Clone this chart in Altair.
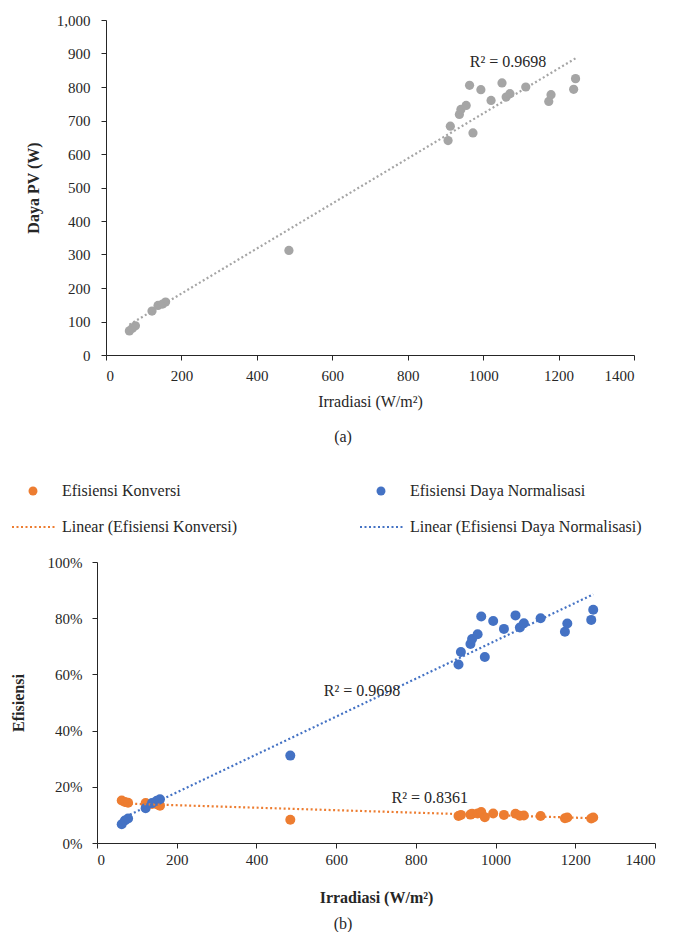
import altair as alt
import pandas as pd

FONT = "Liberation Serif"
INK = "#262626"

# ---- data ----
irradiasi = [62, 70, 78, 122, 138, 150, 158, 485, 907, 913, 937, 941, 955, 964, 973,
             994, 1021, 1050, 1061, 1071, 1113, 1174, 1180, 1240, 1245]
daya_pv = [72, 80, 87, 131, 148, 152, 158, 312, 640, 683, 718, 733, 745, 805, 663,
           792, 760, 812, 770, 780, 800, 757, 777, 793, 825]
ef_normalisasi = [6.7, 8.0, 8.7, 12.4, 14.2, 15.0, 15.6, 31.1, 63.5, 68.0, 70.8, 72.6, 74.3, 80.6, 66.2,
                  79.0, 76.2, 81.0, 76.7, 78.2, 80.0, 75.2, 78.1, 79.4, 83.0]
ef_konversi = [15.1, 14.6, 14.3, 14.2, 13.9, 13.8, 13.3, 8.3, 9.6, 10.0, 10.1, 10.4, 10.5, 11.0, 9.2,
               10.5, 10.0, 10.4, 9.7, 9.8, 9.6, 8.8, 9.1, 8.7, 9.1]

series_names = ["Efisiensi Konversi", "Efisiensi Daya Normalisasi"]
series_colors = ["#ED7D31", "#4472C4"]

r2_a_text = ["R² = 0.9698"]
r2_a_x = [1066]
r2_a_y = [876]

r2_b_text = ["R² = 0.9698", "R² = 0.8361"]
r2_b_x = [665, 835]
r2_b_y = [0.541, 0.160]

legend_labels = ["Efisiensi Konversi", "Efisiensi Daya Normalisasi",
                 "Linear (Efisiensi Konversi)", "Linear (Efisiensi Daya Normalisasi)"]
legend_col = [0, 1, 0, 1]
legend_row = [0, 0, 1, 1]
legend_kind = ["point", "point", "line", "line"]
legend_colors = ["#ED7D31", "#4472C4", "#ED7D31", "#4472C4"]

x_ticks = [0, 200, 400, 600, 800, 1000, 1200, 1400]
ya_ticks = [0, 100, 200, 300, 400, 500, 600, 700, 800, 900, 1000]
yb_ticks = [0, 0.2, 0.4, 0.6, 0.8, 1.0]

# ---- tables ----
df_a = pd.DataFrame({"irr": irradiasi, "daya": daya_pv})
df_b = pd.DataFrame({
    "irr": irradiasi + irradiasi,
    "value": [v / 100 for v in ef_konversi] + [v / 100 for v in ef_normalisasi],
    "series": [series_names[0]] * len(irradiasi) + [series_names[1]] * len(irradiasi),
})
df_r2a = pd.DataFrame({"t": r2_a_text, "x": r2_a_x, "y": r2_a_y})
df_r2b = pd.DataFrame({"t": r2_b_text, "x": r2_b_x, "y": r2_b_y})
df_leg = pd.DataFrame({"label": legend_labels, "col": legend_col, "row": legend_row, "kind": legend_kind})

# ---- chart (a) ----
WA, HA, SHIFT = 537, 335, 9
xa_scale = alt.Scale(domain=[0, 1400], range=[SHIFT, WA], nice=False)
ya_scale = alt.Scale(domain=[0, 1000], nice=False)
xa_axis = alt.Axis(values=x_ticks, format="d", title="Irradiasi (W/m²)", labelPadding=8, titlePadding=10,
                   titleFontWeight="normal")
ya_axis = alt.Axis(values=ya_ticks, format=",.0f", title="Daya PV (W)", offset=-SHIFT, labelPadding=11,
                   titleX=-73, titleY=HA / 2, titleBaseline="middle", titleFontWeight="bold")

base_a = alt.Chart(df_a)
pts_a = base_a.mark_circle(size=85, opacity=1, color="#A5A5A5").encode(
    x=alt.X("irr:Q", scale=xa_scale, axis=xa_axis),
    y=alt.Y("daya:Q", scale=ya_scale, axis=ya_axis),
)
trend_a = base_a.transform_regression("irr", "daya").mark_line(
    color="#A5A5A5", strokeDash=[2, 2.5], strokeWidth=2.2
).encode(x=alt.X("irr:Q", scale=xa_scale, axis=xa_axis), y=alt.Y("daya:Q", scale=ya_scale, axis=ya_axis))
r2a = alt.Chart(df_r2a).mark_text(font=FONT, fontSize=16, color=INK).encode(
    x=alt.X("x:Q", scale=xa_scale, axis=xa_axis), y=alt.Y("y:Q", scale=ya_scale, axis=ya_axis), text="t:N"
)
cap_a = alt.Chart(pd.DataFrame({"t": ["(a)"]})).mark_text(
    font=FONT, fontSize=16, color=INK, baseline="middle"
).encode(text="t:N", x=alt.value(246), y=alt.value(HA + 82))

chart_a = alt.layer(pts_a, trend_a, r2a, cap_a).properties(width=WA, height=HA)

# ---- legend ----
leg_x = alt.X("col:Q", scale=alt.Scale(domain=[0, 1], range=[-35, 313]), axis=None)
leg_y = alt.Y("row:Q", scale=alt.Scale(domain=[0, 1], range=[36, 72]), axis=None)
leg_color = alt.Color("label:N", scale=alt.Scale(domain=legend_labels, range=legend_colors), legend=None)
leg_base = alt.Chart(df_leg)
leg_text = leg_base.mark_text(align="left", baseline="middle", font=FONT, fontSize=16, color=INK).encode(
    x=leg_x, y=leg_y, text="label:N"
)
leg_dots = leg_base.transform_filter(alt.datum.kind == "point").mark_circle(
    size=80, opacity=1, xOffset=-29
).encode(x=leg_x, y=leg_y, color=leg_color)
leg_lines = leg_base.transform_filter(alt.datum.kind == "line").mark_rule(
    xOffset=-50, x2Offset=-6, strokeDash=[2, 2.5], strokeWidth=2.2
).encode(x=leg_x, x2="col:Q", y=leg_y, color=leg_color)
legend_chart = alt.layer(leg_lines, leg_dots, leg_text).properties(width=558, height=90)

# ---- chart (b) ----
WB, HB = 558, 281
xb_scale = alt.Scale(domain=[0, 1400], nice=False)
yb_scale = alt.Scale(domain=[0, 1], nice=False)
xb_axis = alt.Axis(values=x_ticks, format="d", title="Irradiasi (W/m²)", labelPadding=4, titlePadding=22,
                   titleFontWeight="bold")
yb_axis = alt.Axis(values=yb_ticks, format=".0%", title="Efisiensi", labelPadding=10,
                   titleX=-79, titleY=HB / 2, titleBaseline="middle", titleFontWeight="bold")
color_b = alt.Color("series:N", scale=alt.Scale(domain=series_names, range=series_colors), legend=None)

base_b = alt.Chart(df_b)
pts_b = base_b.mark_circle(size=100, opacity=1).encode(
    x=alt.X("irr:Q", scale=xb_scale, axis=xb_axis),
    y=alt.Y("value:Q", scale=yb_scale, axis=yb_axis),
    color=color_b,
    order=alt.Order("series:N", sort="descending"),
)
trend_b = base_b.transform_regression("irr", "value", groupby=["series"]).mark_line(
    strokeDash=[2, 2.5], strokeWidth=2.2
).encode(x=alt.X("irr:Q", scale=xb_scale, axis=xb_axis), y=alt.Y("value:Q", scale=yb_scale, axis=yb_axis),
         color=color_b)
r2b = alt.Chart(df_r2b).mark_text(font=FONT, fontSize=16, color=INK).encode(
    x=alt.X("x:Q", scale=xb_scale, axis=xb_axis), y=alt.Y("y:Q", scale=yb_scale, axis=yb_axis), text="t:N"
)
cap_b = alt.Chart(pd.DataFrame({"t": ["(b)"]})).mark_text(
    font=FONT, fontSize=16, color=INK, baseline="middle"
).encode(text="t:N", x=alt.value(246), y=alt.value(HB + 81))

chart_b = alt.layer(pts_b, trend_b, r2b, cap_b).properties(width=WB, height=HB)

chart = alt.vconcat(chart_a, legend_chart, chart_b, spacing=10).properties(
    padding={"left": 2, "top": 5, "right": 0, "bottom": 0},
    background="white",
).configure_axis(
    grid=False, domainColor=INK, tickColor=INK, labelColor=INK, titleColor=INK,
    labelFont=FONT, titleFont=FONT, labelFontSize=15, titleFontSize=16, tickSize=5,
    domainWidth=1, tickWidth=1,
).configure_view(stroke=None)

chart.save("out.html", embed_options={"renderer": "svg", "actions": False})
